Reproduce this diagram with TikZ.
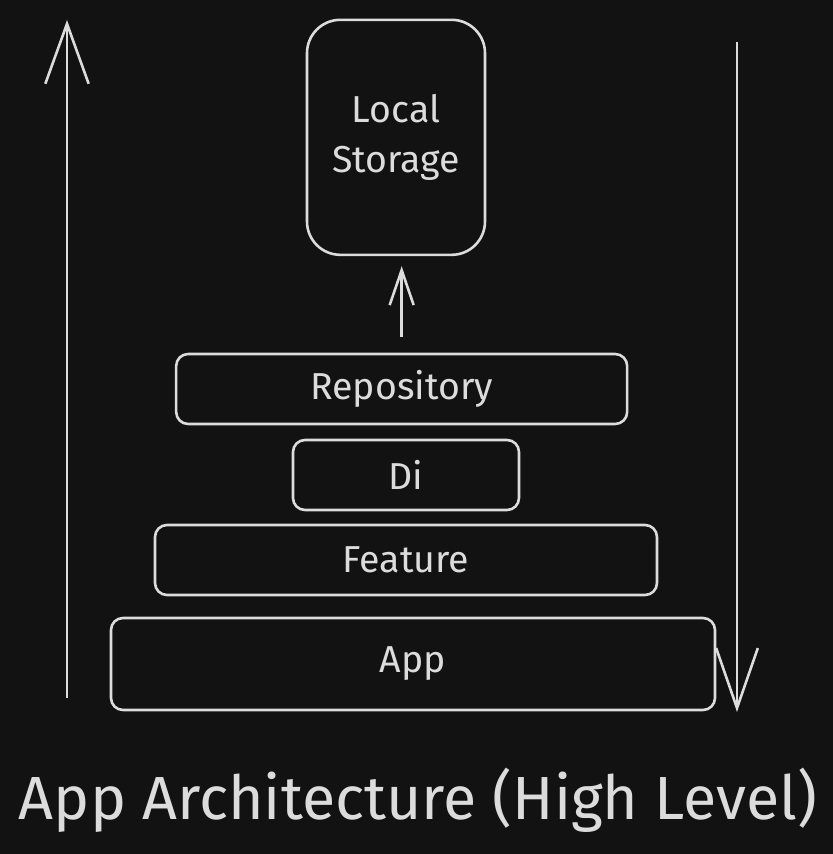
\documentclass[tikz,border=0pt]{standalone}
\usepackage{fontspec}
\setmainfont{Fira Sans}
\usetikzlibrary{arrows.meta}
\definecolor{board}{HTML}{121212}
\definecolor{chalk}{HTML}{DCDCDC}
\begin{document}
\begin{tikzpicture}[line width=2.2pt,
            layer/.style = {draw=chalk, rounded corners=0.36cm,
                        minimum height=2.1cm, text=chalk,
                        font=\fontsize{32}{38}\selectfont},
            store/.style = {draw=chalk, rounded corners=1cm,
                        minimum width=5.34cm, minimum height=7.05cm,
                        text=chalk, align=center,
                        font=\fontsize{32}{43}\selectfont}]
            \fill[board] (0,0) rectangle (24.99,25.62);
            \useasboundingbox (0,0) rectangle (24.99,25.62);
            % Local storage
            \node[store] (ls) at (11.88,21.5) {Local\\Storage};
            % Layers
            \node[layer,minimum width=13.53cm] (repo) at (12.05,13.95) {Repository};
            \node[layer,minimum width=6.78cm] (di) at (12.18,11.37) {Di};
            \node[layer,minimum width=15.06cm] (feat) at (12.18,8.82) {Feature};
            \node[layer,minimum width=18.12cm,minimum height=2.76cm] (app) at (12.39,5.7) {App};
            % Arrows
            \coordinate (upbot) at (2.01,4.68);
            \coordinate (uptop) at (2.01,25.02);
            \coordinate (dntop) at (22.11,24.36);
            \coordinate (dnbot) at (22.11,4.26);
            \draw[chalk,-{Straight Barb[length=1.8cm,width=1.3cm]}] (upbot) -- (uptop);
            \draw[chalk,-{Straight Barb[length=1.8cm,width=1.25cm]}] (dntop) -- (dnbot);
            \draw[chalk,shorten <=0.48cm,shorten >=0.3cm,
                -{Straight Barb[length=1.05cm,width=0.72cm]}] (repo.north) -- (repo.north |- ls.south);
            % Title
            \node[text=chalk,font=\fontsize{52}{62}\selectfont] (title) at (12.54,1.62) {App Architecture (High Level)};
        \end{tikzpicture}
\end{document}
